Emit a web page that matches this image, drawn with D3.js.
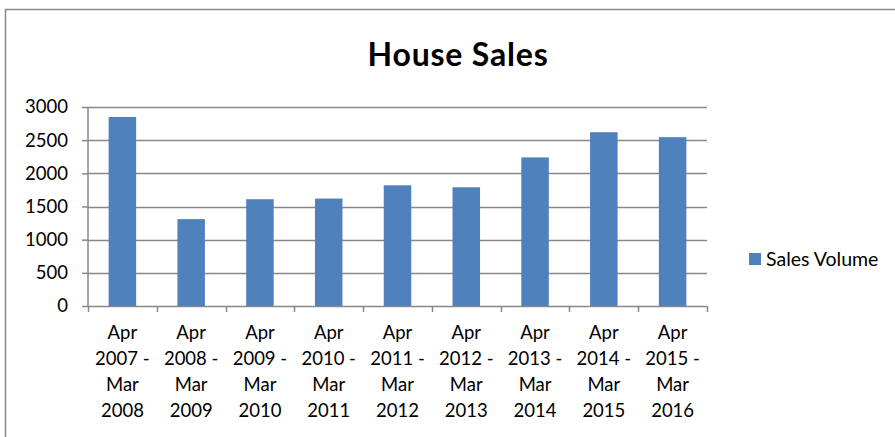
<!DOCTYPE html>
<html>
<head>
    <title>House Sales</title>
    <script src="https://d3js.org/d3.v7.min.js"></script>
    <style>
        body { margin: 0; background: #fff; }
        svg text { font-family: Lato, "Noto Sans", sans-serif; fill: #000; }
    </style>
</head>
<body>
    <svg id="chart" width="895" height="437"></svg>
    <script>
        // data
        const periods = [
            ["Apr", "2007 -", "Mar", "2008"],
            ["Apr", "2008 -", "Mar", "2009"],
            ["Apr", "2009 -", "Mar", "2010"],
            ["Apr", "2010 -", "Mar", "2011"],
            ["Apr", "2011 -", "Mar", "2012"],
            ["Apr", "2012 -", "Mar", "2013"],
            ["Apr", "2013 -", "Mar", "2014"],
            ["Apr", "2014 -", "Mar", "2015"],
            ["Apr", "2015 -", "Mar", "2016"]
        ];
        const salesVolume = [2850, 1310, 1610, 1620, 1820, 1790, 2240, 2620, 2545];
        const yTicks = [0, 500, 1000, 1500, 2000, 2500, 3000];
        const seriesName = "Sales Volume";

        var svg = d3.select("#chart");
        var plot = {left: 88, right: 707, top: 107, bottom: 306};

        // outer chart border
        svg.append("rect")
            .attr("x", 5.5).attr("y", 9.5)
            .attr("width", 910).attr("height", 450)
            .attr("fill", "none").attr("stroke", "#888").attr("stroke-width", 1.5);

        svg.append("text")
            .attr("x", 458).attr("y", 66)
            .attr("text-anchor", "middle")
            .style("font-size", "32px").style("font-weight", "bold")
            .style("letter-spacing", "0.8px")
            .text("House Sales");

        var keys = periods.map(function(d, i) { return i; });
        var x = d3.scaleBand().domain(keys).range([plot.left, plot.right]).paddingInner(0.6).paddingOuter(0.3);
        var y = d3.scaleLinear().domain([0, 3000]).range([plot.bottom, plot.top]);

        // gridlines
        svg.append("g")
            .selectAll("line")
            .data(yTicks.filter(function(t) { return t > 0; }))
            .enter().append("line")
            .attr("x1", plot.left).attr("x2", plot.right)
            .attr("y1", function(d) { return Math.round(y(d)) + 0.5; })
            .attr("y2", function(d) { return Math.round(y(d)) + 0.5; })
            .attr("stroke", "#888").attr("stroke-width", 1.5);

        // bars
        svg.append("g")
            .selectAll("rect")
            .data(salesVolume)
            .enter().append("rect")
            .attr("x", function(d, i) { return x(i); })
            .attr("width", x.bandwidth())
            .attr("y", function(d) { return y(d); })
            .attr("height", function(d) { return y(0) - y(d); })
            .attr("fill", "#4F81BD");

        // y axis
        var yAxis = svg.append("g")
            .attr("transform", "translate(" + plot.left + ",0)")
            .call(d3.axisLeft(y).tickValues(yTicks).tickSize(6).tickPadding(14).tickFormat(d3.format("d")));
        yAxis.selectAll("path, line").attr("stroke", "#888").attr("stroke-width", 1.5);
        yAxis.select(".domain").attr("d", "M0," + plot.top + "V" + plot.bottom);
        yAxis.selectAll("text").style("font-size", "18.5px").style("font-family", "Lato, sans-serif").attr("fill", "#000");

        // x axis with ticks at category boundaries
        var boundaries = d3.range(periods.length + 1).map(function(i) { return plot.left + i * (plot.right - plot.left) / periods.length; });
        svg.append("line")
            .attr("x1", plot.left).attr("x2", plot.right)
            .attr("y1", plot.bottom + 0.5).attr("y2", plot.bottom + 0.5)
            .attr("stroke", "#888").attr("stroke-width", 1.5);
        svg.append("g")
            .selectAll("line")
            .data(boundaries)
            .enter().append("line")
            .attr("x1", function(d) { return Math.round(d) + 0.5; })
            .attr("x2", function(d) { return Math.round(d) + 0.5; })
            .attr("y1", plot.bottom).attr("y2", plot.bottom + 6)
            .attr("stroke", "#888").attr("stroke-width", 1.5);

        var labels = svg.append("g")
            .selectAll("text")
            .data(periods)
            .enter().append("text")
            .attr("text-anchor", "middle")
            .style("font-size", "18.5px")
            .attr("transform", function(d, i) { return "translate(" + (x(i) + x.bandwidth() / 2) + ",0)"; });
        labels.selectAll("tspan")
            .data(function(d) { return d; })
            .enter().append("tspan")
            .attr("x", 0)
            .attr("y", function(d, j) { return 339 + j * 26; })
            .text(function(d) { return d; });

        // legend
        svg.append("rect")
            .attr("x", 749).attr("y", 253).attr("width", 12).attr("height", 12)
            .attr("fill", "#4F81BD");
        svg.append("text")
            .attr("x", 766).attr("y", 265.5)
            .style("font-size", "19.5px")
            .text(seriesName);
    </script>
</body>
</html>
